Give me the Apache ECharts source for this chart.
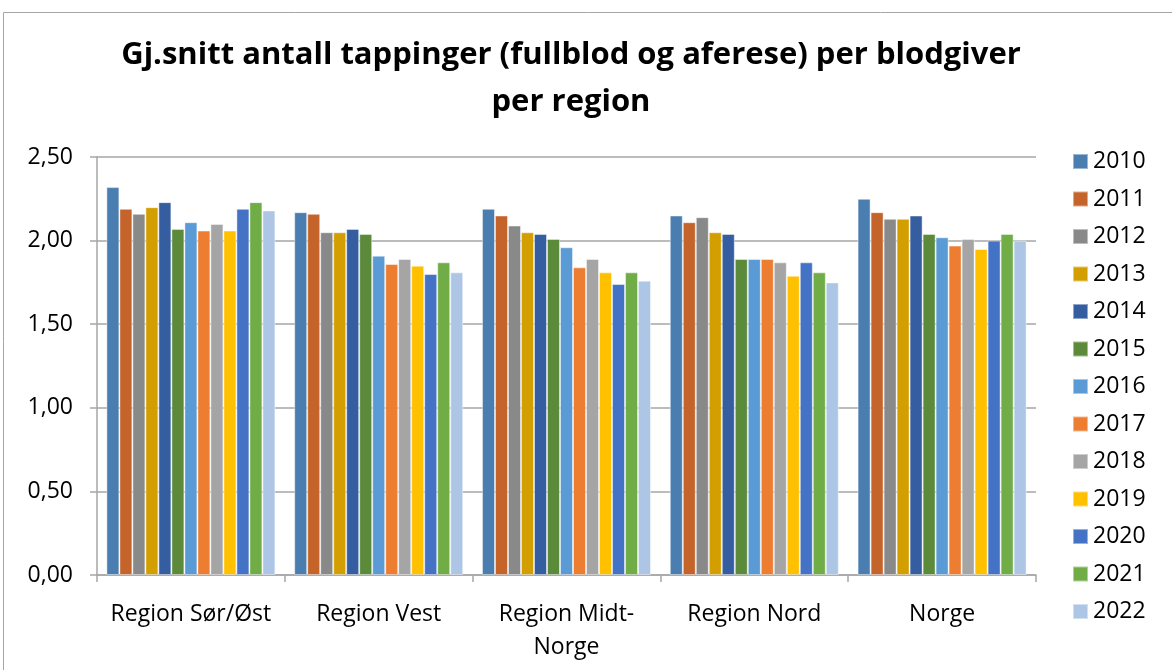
<!DOCTYPE html>
<html>
<head>
<meta charset="utf-8">
<script src="https://cdn.jsdelivr.net/npm/echarts@6/dist/echarts.min.js"></script>
<style>
  html, body { margin: 0; padding: 0; background: #fff; }
  #chart { width: 1172px; height: 670px; }
</style>
</head>
<body>
<div id="chart"></div>
<script>
// regioner og år
const regions = ['Region Sør/Øst', 'Region Vest', 'Region Midt-Norge', 'Region Nord', 'Norge'];
const years = ['2010', '2011', '2012', '2013', '2014', '2015', '2016', '2017', '2018', '2019', '2020', '2021', '2022'];

// verdier per år, én verdi per region
const v2010 = [2.32, 2.17, 2.19, 2.15, 2.25];
const v2011 = [2.19, 2.16, 2.15, 2.11, 2.17];
const v2012 = [2.16, 2.05, 2.09, 2.14, 2.13];
const v2013 = [2.20, 2.05, 2.05, 2.05, 2.13];
const v2014 = [2.23, 2.07, 2.04, 2.04, 2.15];
const v2015 = [2.07, 2.04, 2.01, 1.89, 2.04];
const v2016 = [2.11, 1.91, 1.96, 1.89, 2.02];
const v2017 = [2.06, 1.86, 1.84, 1.89, 1.97];
const v2018 = [2.10, 1.89, 1.89, 1.87, 2.01];
const v2019 = [2.06, 1.85, 1.81, 1.79, 1.95];
const v2020 = [2.19, 1.80, 1.74, 1.87, 2.00];
const v2021 = [2.23, 1.87, 1.81, 1.81, 2.04];
const v2022 = [2.18, 1.81, 1.76, 1.75, 2.00];
const values = [v2010, v2011, v2012, v2013, v2014, v2015, v2016, v2017, v2018, v2019, v2020, v2021, v2022];

const colors = ['#4a7eb0', '#c5642a', '#898989', '#d39f00', '#355ea0', '#5a8a3a', '#5b9bd5',
                '#ed7d31', '#a5a5a5', '#ffc000', '#4472c4', '#70ad47', '#aec6e6'];

const font = '"Open Sans", "Noto Sans", sans-serif';

let myChart = echarts.init(document.getElementById('chart'));

let series = years.map(function (y, i) {
    return {
        name: y,
        type: 'bar',
        data: values[i],
        barGap: '0%',
        barCategoryGap: '10%',
        itemStyle: {
            color: colors[i],
            borderColor: 'rgba(255,255,255,0.45)',
            borderWidth: 1
        }
    };
});

let option = {
    animation: false,
    color: colors,
    textStyle: { fontFamily: font },
    graphic: [{
        type: 'rect',
        shape: { x: 3.5, y: 12.5, width: 1200, height: 700 },
        style: { fill: 'none', stroke: '#a6a6a6', lineWidth: 1 },
        silent: true
    }],
    title: {
        text: 'Gj.snitt antall tappinger (fullblod og aferese) per blodgiver\nper region',
        left: 566,
        textAlign: 'center',
        top: 27,
        textStyle: {
            fontFamily: font,
            fontWeight: 'bold',
            fontSize: 31,
            lineHeight: 47,
            color: '#000'
        }
    },
    legend: {
        orient: 'vertical',
        left: 1067,
        top: 145,
        itemWidth: 15,
        itemHeight: 15,
        itemGap: 14.5,
        icon: 'rect',
        textStyle: { fontFamily: font, fontSize: 23, lineHeight: 22, color: '#000' },
        data: years
    },
    grid: { left: 97, right: 136, top: 157, bottom: 95 },
    xAxis: {
        type: 'category',
        data: regions,
        axisLine: { lineStyle: { color: '#a6a6a6', width: 1.5 } },
        axisTick: { show: true, length: 7, lineStyle: { color: '#a6a6a6', width: 1.5 } },
        axisLabel: {
            margin: 23,
            fontFamily: font,
            fontSize: 23,
            lineHeight: 33,
            color: '#000',
            interval: 0,
            formatter: function (v) {
                return v === 'Region Midt-Norge' ? 'Region Midt-\nNorge' : v;
            }
        }
    },
    yAxis: {
        type: 'value',
        min: 0,
        max: 2.5,
        interval: 0.5,
        axisLine: { show: true, lineStyle: { color: '#a6a6a6', width: 1.5 } },
        axisTick: { show: true, length: 7, lineStyle: { color: '#a6a6a6', width: 1.5 } },
        splitLine: { lineStyle: { color: '#a6a6a6', width: 1.5 } },
        axisLabel: {
            margin: 24,
            fontFamily: font,
            fontSize: 23,
            color: '#000',
            formatter: function (v) {
                return v.toFixed(2).replace('.', ',');
            }
        }
    },
    series: series
};

myChart.setOption(option);
</script>
</body>
</html>
